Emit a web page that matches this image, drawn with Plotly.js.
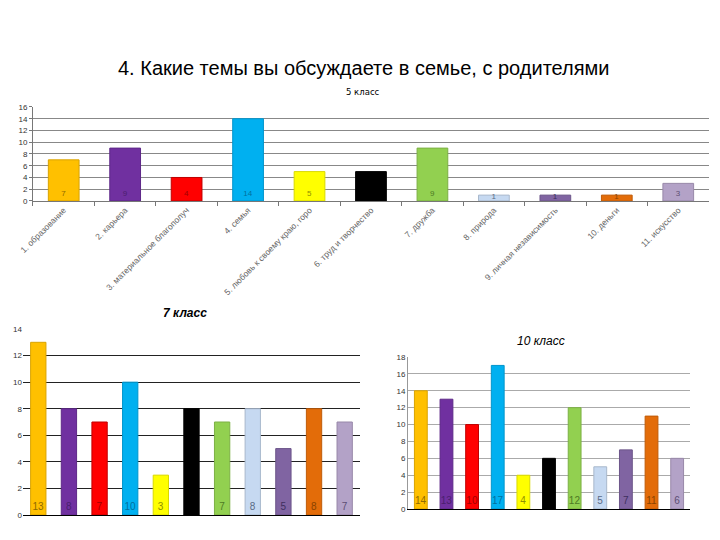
<!DOCTYPE html>
<html>
<head>
<meta charset="utf-8">
<script src="https://cdn.plot.ly/plotly-3.0.1.min.js"></script>
<style>html,body{margin:0;padding:0;background:#fff;}#chart{width:720px;height:540px;}</style>
</head>
<body>
<div id="chart"></div>
<script>
const categories = [
  "1. образование",
  "2. карьера",
  "3. материальное благополуч",
  "4. семья",
  "5. любовь к своему краю, горо",
  "6. труд и творчество",
  "7. дружба",
  "8. природа",
  "9. личная независимость",
  "10. деньги",
  "11. искусство"
];
const values5 = [7, 9, 4, 14, 5, 5, 9, 1, 1, 1, 3];
const values7 = [13, 8, 7, 10, 3, 8, 7, 8, 5, 8, 7];
const values10 = [14, 13, 10, 17, 4, 6, 12, 5, 7, 11, 6];

const barColors = ["#FFC000", "#7030A0", "#FF0000", "#00B0F0", "#FFFF00", "#000000",
                   "#92D050", "#C6D9F1", "#8064A2", "#E36C09", "#B3A2C7"];
const lineColors = ["#D9A300", "#5E2888", "#C00000", "#0095CC", "#D9D900", "#000000",
                    "#7CB044", "#A8B8CC", "#6C5589", "#C05C08", "#9888A9"];
const textColors = ["#8F6A00", "#4A1F6E", "#A00000", "#00709F", "#8F8F00", "#000000",
                    "#4E7A25", "#5A6A85", "#3E2F5E", "#8A4300", "#5D4E73"];

const mainTitle = "4. Какие темы вы обсуждаете в семье, с родителями";
const title5 = "5 класс";
const title7 = "7 класс";
const title10 = "10 класс";

function barTrace(vals, xa, ya, fontSize) {
  return {
    type: "bar",
    x: categories,
    y: vals,
    xaxis: xa,
    yaxis: ya,
    marker: { color: barColors, line: { color: lineColors, width: 1 } },
    text: vals.map(String),
    textposition: "inside",
    insidetextanchor: "start",
    constraintext: "none",
    textangle: 0,
    textfont: { family: "Liberation Sans, Arial, sans-serif", size: fontSize, color: textColors },
    cliponaxis: false,
    hoverinfo: "x+y",
    showlegend: false
  };
}

const data = [
  barTrace(values5, "x", "y", 8),
  barTrace(values7, "x2", "y2", 10),
  barTrace(values10, "x3", "y3", 10)
];

const tickFont = { family: "Liberation Sans, Arial, sans-serif", size: 8, color: "#333" };

const layout = {
  width: 720,
  height: 540,
  margin: { l: 0, r: 0, t: 0, b: 0 },
  paper_bgcolor: "#ffffff",
  plot_bgcolor: "#ffffff",
  bargap: 0.5,
  xaxis: {
    domain: [0.0458, 0.9847],
    anchor: "y",
    type: "category",
    tickangle: -45,
    ticks: "outside",
    tickson: "boundaries",
    ticklen: 4,
    tickcolor: "#777",
    showline: true,
    linecolor: "#777",
    tickfont: { family: "Liberation Sans, Arial, sans-serif", size: 8.5, color: "#666" },
    showgrid: false
  },
  yaxis: {
    domain: [0.6278, 0.8019],
    anchor: "x",
    range: [0, 16],
    dtick: 2,
    ticks: "outside",
    ticklen: 3,
    tickcolor: "#777",
    showline: true,
    linecolor: "#777",
    gridcolor: "#888",
    zeroline: false,
    tickfont: tickFont
  },
  xaxis2: {
    domain: [0.0319, 0.5],
    anchor: "y2",
    type: "category",
    showticklabels: false,
    ticks: "",
    showline: true,
    linecolor: "#000",
    showgrid: false
  },
  yaxis2: {
    domain: [0.0463, 0.3907],
    anchor: "x2",
    range: [0, 14],
    dtick: 2,
    showline: false,
    gridcolor: "#222",
    zeroline: false,
    tickfont: tickFont
  },
  xaxis3: {
    domain: [0.5667, 0.9583],
    anchor: "y3",
    type: "category",
    showticklabels: false,
    ticks: "",
    showline: true,
    linecolor: "#000",
    showgrid: false
  },
  yaxis3: {
    domain: [0.0574, 0.3389],
    anchor: "x3",
    range: [0, 18],
    dtick: 2,
    showline: true,
    linecolor: "#999",
    gridcolor: "#aaa",
    zeroline: false,
    tickfont: tickFont
  },
  annotations: [
    { text: mainTitle, xref: "paper", yref: "paper", x: 0.505, y: 0.874, xanchor: "center", yanchor: "middle",
      showarrow: false, font: { family: "Liberation Sans, Arial, sans-serif", size: 20, color: "#000" } },
    { text: title5, xref: "paper", yref: "paper", x: 0.504, y: 0.8296, xanchor: "center", yanchor: "middle",
      showarrow: false, font: { family: "DejaVu Sans, sans-serif", size: 8.5, color: "#000" } },
    { text: "<b><i>" + title7 + "</i></b>", xref: "paper", yref: "paper", x: 0.257, y: 0.4204, xanchor: "center", yanchor: "middle",
      showarrow: false, font: { family: "Liberation Sans, Arial, sans-serif", size: 12, color: "#000" } },
    { text: "<i>" + title10 + "</i>", xref: "paper", yref: "paper", x: 0.751, y: 0.3685, xanchor: "center", yanchor: "middle",
      showarrow: false, font: { family: "Liberation Sans, Arial, sans-serif", size: 12, color: "#000" } }
  ]
};

Plotly.newPlot("chart", data, layout, { staticPlot: true, displayModeBar: false });
</script>
</body>
</html>
